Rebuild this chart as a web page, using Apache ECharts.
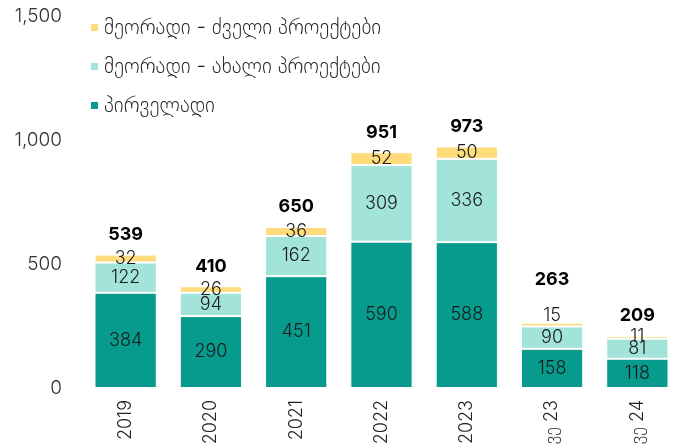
<!DOCTYPE html>
<html><head><meta charset="utf-8">
<script src="https://cdn.jsdelivr.net/npm/echarts@6/dist/echarts.min.js"></script>
<style>html,body{margin:0;padding:0;background:#fff}#c{width:683px;height:445px}</style>
</head><body><div id="c"></div>
<script>
const categories = ['2019','2020','2021','2022','2023','6 თვე 23','6 თვე 24'];
const primary = [384,290,451,590,588,158,118];
const secondaryNew = [122,94,162,309,336,90,81];
const secondaryOld = [32,26,36,52,50,15,11];
const totals = [539,410,650,951,973,263,209];
const yTicks = [0,500,1000,1500];
const names = ['მეორადი - ძველი პროექტები','მეორადი - ახალი პროექტები','პირველადი'];

const FONT = "Inter, 'DejaVu Sans', sans-serif";
const chart = echarts.init(document.getElementById('c'), null, {renderer:'canvas'});
const segLabel = {show:true, position:'inside', color:'#1a1a1a', fontSize:18, fontWeight:300, fontFamily:FONT};
const border = {borderColor:'#fff', borderWidth:1};
chart.setOption({
  animation:false,
  textStyle:{fontFamily:FONT},
  grid:{left:83, right:3, top:16, bottom:57, containLabel:false, outerBoundsMode:'none'},
  legend:{
    orient:'vertical', left:84, top:12, itemWidth:9, itemHeight:9, itemGap:18,
    icon:'rect',
    data:[names[0],names[1],names[2]],
    textStyle:{fontSize:21, color:'#222', fontFamily:FONT, fontWeight:300}
  },
  xAxis:{
    type:'category', data:categories,
    axisLine:{show:false}, axisTick:{show:false},
    axisLabel:{rotate:90, fontSize:18, color:'#222', margin:12, fontFamily:FONT, fontWeight:300}
  },
  yAxis:{
    type:'value', min:yTicks[0], max:yTicks[yTicks.length-1], interval:500,
    splitLine:{show:false}, axisLine:{show:false}, axisTick:{show:false},
    axisLabel:{fontSize:19, color:'#333', margin:21, fontFamily:FONT, fontWeight:300,
      formatter:v=>v.toLocaleString('en-US')}
  },
  series:[
    {name:names[2], type:'bar', stack:'s', data:primary, barCategoryGap:'27%',
     itemStyle:Object.assign({color:'#079B8D'},border), label:segLabel},
    {name:names[1], type:'bar', stack:'s', data:secondaryNew,
     itemStyle:Object.assign({color:'#A3E4DA'},border), label:segLabel},
    {name:names[0], type:'bar', stack:'s',
     data:secondaryOld.map((v,i)=> i===5 ? {value:v,label:{offset:[0,-9]}} : (i===6?{value:v,label:{offset:[0,-1]}}:v)),
     itemStyle:Object.assign({color:'#FEDC7B'},border), label:segLabel},
    {name:'total', type:'bar', stack:'s', data:totals.map((t,i)=> i===5?{value:0,label:{distance:34}}:0),
     itemStyle:{color:'transparent'},
     label:{show:true, position:'top', distance:11, color:'#000', fontSize:18, fontWeight:'bold', fontFamily:FONT,
       formatter:p=>totals[p.dataIndex]}}
  ]
});
</script></body></html>
